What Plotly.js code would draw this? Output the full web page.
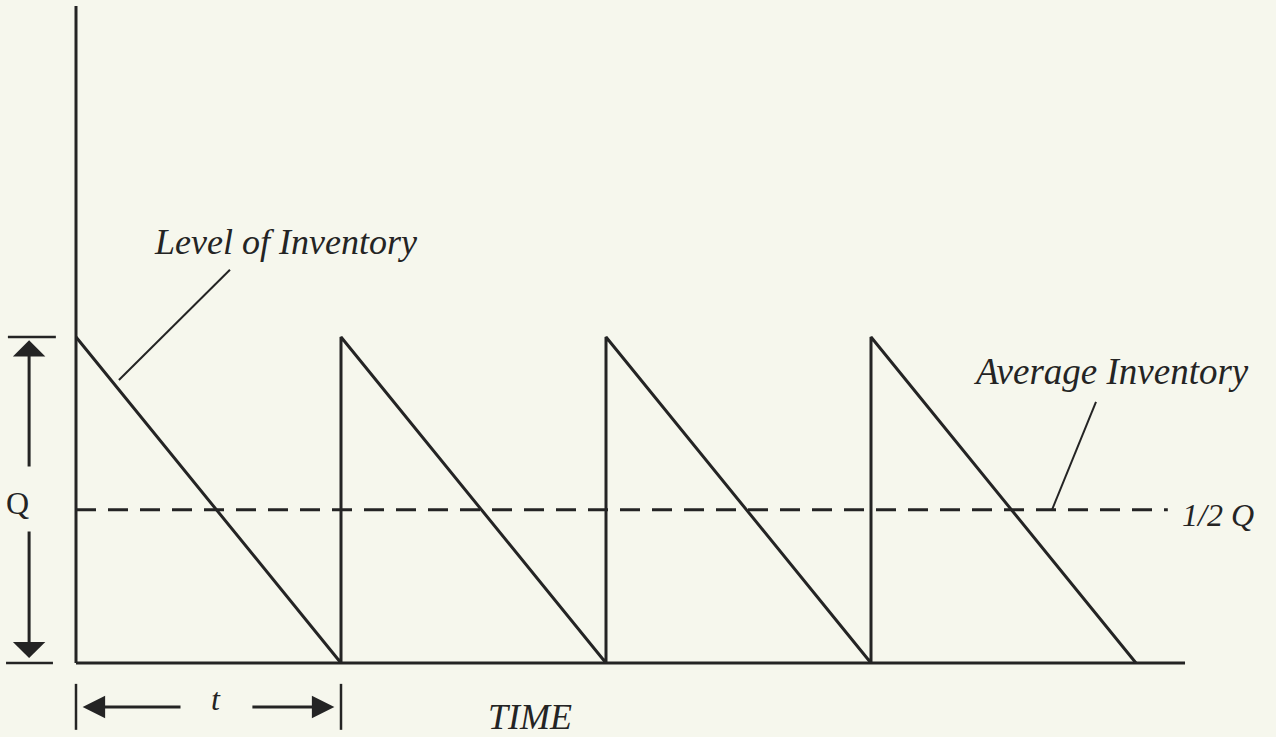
<!DOCTYPE html>
<html>
<head>
<meta charset="utf-8">
<script src="https://cdn.plot.ly/plotly-3.0.1.min.js"></script>
<style>
  html, body { margin: 0; padding: 0; background: #f6f7ed; }
  #chart { width: 1276px; height: 737px; }
</style>
</head>
<body>
<div id="chart"></div>
<script>
// Sawtooth inventory model: order Q arrives, inventory drawn down to zero over t
const cycleTimes = [0, 1, 1, 2, 2, 3, 3, 4];
const inventoryLevels = [100, 0, 100, 0, 100, 0, 100, 0];
const orderQuantity = 100;
const averageLevel = 47;          // dashed "1/2 Q" line as drawn
const averageSpan = [0, 4.12];
const axisExtent = { time: 4.185, level: 201.5 };

const ink = '#242424';
const serif = 'Liberation Serif, Times New Roman, serif';

const sawtooth = {
  type: 'scatter',
  mode: 'lines',
  x: cycleTimes,
  y: inventoryLevels,
  line: { color: ink, width: 3 },
  hoverinfo: 'skip'
};

const average = {
  type: 'scatter',
  mode: 'lines',
  x: averageSpan,
  y: [averageLevel, averageLevel],
  line: { color: ink, width: 3, dash: '20px,12px' },
  hoverinfo: 'skip'
};

function seg(x0, y0, x1, y1, w) {
  return { type: 'line', xref: 'x', yref: 'y', x0: x0, y0: y0, x1: x1, y1: y1,
           line: { color: ink, width: w || 3 } };
}

function arrow(xTail, yTail, xTip, yTip, head, size) {
  return {
    x: xTip, y: yTip, ax: xTail, ay: yTail,
    xref: 'x', yref: 'y', axref: 'x', ayref: 'y',
    text: '', showarrow: true,
    arrowhead: head, arrowsize: size, arrowwidth: 3, arrowcolor: ink
  };
}

function label(text, x, y, size, italic, anchor) {
  return {
    x: x, y: y, xref: 'x', yref: 'y', text: text, showarrow: false,
    xanchor: anchor || 'center', yanchor: 'middle',
    font: { family: serif, size: size, color: ink, style: italic ? 'italic' : 'normal' }
  };
}

const shapes = [
  // axes
  seg(0, 0, 0, axisExtent.level),
  seg(0, 0, axisExtent.time, 0),
  // Q dimension bars
  seg(-0.257, orderQuantity, -0.076, orderQuantity, 2.5),
  seg(-0.264, 0, -0.087, 0, 2.5),
  // t dimension ticks
  seg(0, -6.4, 0, -20.5, 2.5),
  seg(1, -6.4, 1, -20.5, 2.5),
  // leader lines
  seg(0.581, 120.6, 0.162, 86.8, 2),
  seg(3.849, 80.1, 3.683, averageLevel, 2)
];

const annotations = [
  arrow(-0.177, 59.8, -0.177, orderQuantity - 1, 1, 1.8),
  arrow(-0.177, 40.8, -0.177, 1.5, 1, 1.8),
  arrow(0.40, -13.5, 0.025, -13.5, 2, 1.5),
  arrow(0.66, -13.5, 0.975, -13.5, 2, 1.5),
  label('Q', -0.219, 49.1, 32, false),
  label('t', 0.528, -11.0, 32, true),
  label('TIME', 1.713, -16.6, 36, true),
  label('Level of Inventory', 0.791, 129.1, 36, true),
  label('Average Inventory', 3.906, 89.3, 37, true),
  label('1/2 Q', 4.166, averageLevel - 1.5, 32, true, 'left')
];

const layout = {
  width: 1276,
  height: 737,
  margin: { l: 0, r: 0, t: 0, b: 0 },
  paper_bgcolor: '#f6f7ed',
  plot_bgcolor: '#f6f7ed',
  showlegend: false,
  xaxis: { visible: false, range: [-0.2868, 4.5283], fixedrange: true },
  yaxis: { visible: false, range: [-22.70, 203.37], fixedrange: true },
  shapes: shapes,
  annotations: annotations
};

Plotly.newPlot('chart', [average, sawtooth], layout, { displayModeBar: false, staticPlot: true });
</script>
</body>
</html>
